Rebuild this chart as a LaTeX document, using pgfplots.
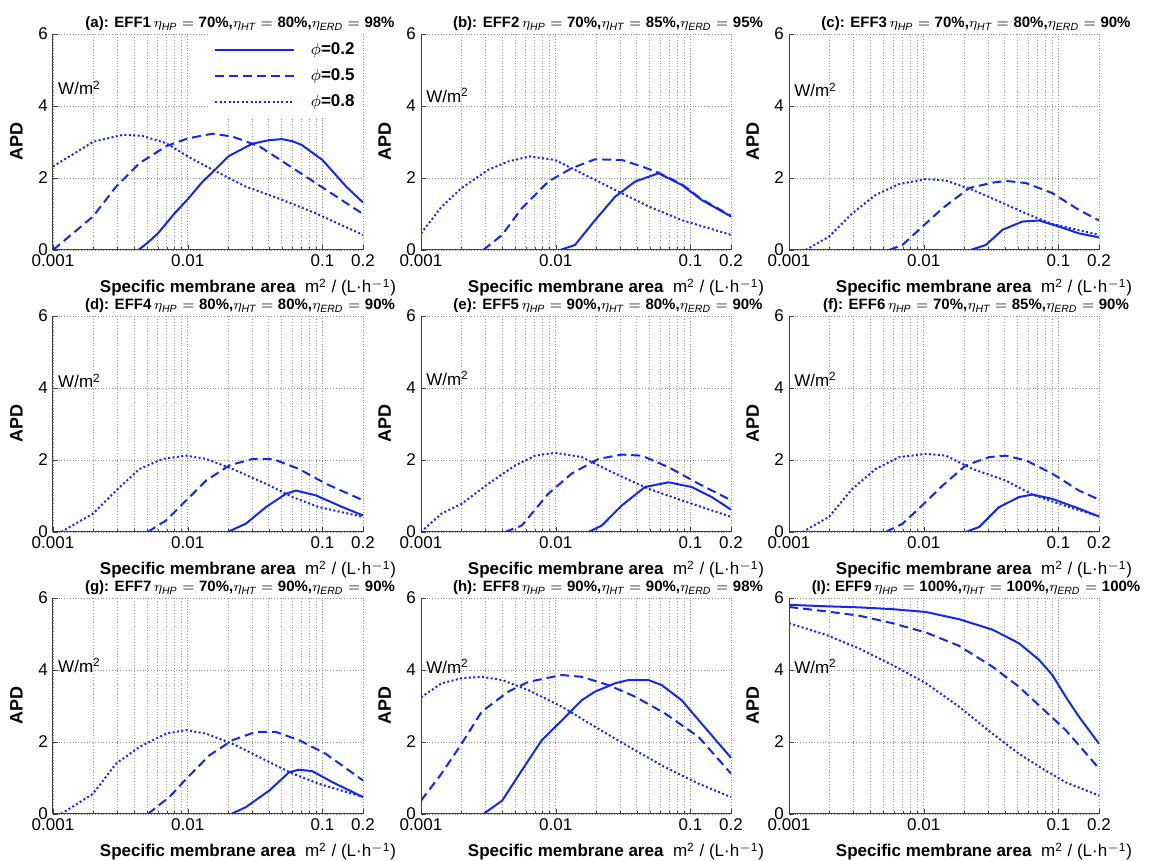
\documentclass[border=0pt]{standalone}
\usepackage{fontspec}
\setmainfont{Liberation Sans}
\usepackage{pgfplots}
\pgfplotsset{compat=1.18}
\usepgfplotslibrary{groupplots}
\definecolor{myblue}{RGB}{20,40,235}
\newcommand{\lab}{\fontsize{8.5}{10}\selectfont}
\newcommand{\eq}[2]{$\eta_{\mathit{#1}}=\mbox{\textbf{#2}}$}
\newcommand{\ttl}[5]{\textbf{(#1): EFF#2}\,\eq{HP}{#3\%,}\eq{HT}{#4\%,}\eq{ERD}{#5\%}}
\begin{document}
\begin{tikzpicture}
\begin{groupplot}[
    group style={group size=3 by 3, horizontal sep=29pt, vertical sep=33pt, group name=G},
    scale only axis, width=155pt, height=108pt,
    xmode=log, xmin=0.001, xmax=0.2, ymin=0, ymax=6,
    xtick={0.001,0.01,0.1,0.2}, xticklabels={0.001,0.01,0.1,0.2},
    minor xtick={0.002,0.003,0.004,0.005,0.006,0.007,0.008,0.009,0.02,0.03,0.04,0.05,0.06,0.07,0.08,0.09},
    ytick={0,2,4,6}, yticklabels={0,2,4,6},
    grid=both,
    grid style={densely dotted, black!45, line width=0.45pt},
    minor grid style={densely dotted, black!40, line width=0.45pt},
    axis x line*=bottom, axis y line*=left,
    axis line style={-, black!75, line width=0.5pt},
    tick align=inside, major tick length=2.5pt, minor tick length=1.5pt,
    tick style={black!75},
    ticklabel style={font=\lab},
    xticklabel style={yshift=1pt},
    yticklabel style={xshift=1pt},
    xlabel={\textbf{Specific membrane area}\ \ m\textsuperscript{2} / (L·h\textsuperscript{$-$1})},
    xlabel style={font=\lab, xshift=20pt, yshift=1pt},
    ylabel={\textbf{APD}},
    ylabel style={font=\fontsize{9}{10}\selectfont, yshift=1pt},
    title style={font=\fontsize{7.5}{9}\selectfont, yshift=-8pt, xshift=16pt},
  ]
% (a)
\nextgroupplot[title={\ttl{a}{1}{70}{80}{98}},
  legend style={at={(1,1)}, anchor=north east, draw=none, fill=white, font=\lab, row sep=1.5pt, inner sep=2pt},
  legend cell align=left, legend image post style={xscale=2.3}]
\addplot[myblue, line width=1pt] coordinates {(0.0043,0) (0.005,0.19) (0.006,0.46) (0.008,1.02) (0.01,1.41) (0.0129,1.9) (0.015,2.13) (0.02,2.6) (0.03,2.95) (0.04,3.05) (0.05,3.08) (0.06,3.02) (0.07,2.92) (0.1,2.5) (0.15,1.76) (0.2,1.32)};
\addplot[myblue, line width=1pt, dash pattern=on 4.5pt off 2.5pt] coordinates {(0.001,0) (0.00198,0.93) (0.00294,1.76) (0.00438,2.41) (0.0069,2.88) (0.01,3.1) (0.0153,3.23) (0.0215,3.15) (0.034,2.88) (0.0506,2.46) (0.089,1.86) (0.2,1.0)};
\addplot[myblue, line width=1pt, dash pattern=on 1pt off 1.2pt] coordinates {(0.001,2.32) (0.002,3.01) (0.0033,3.2) (0.0046,3.17) (0.0069,2.97) (0.01,2.6) (0.0153,2.23) (0.027,1.76) (0.0506,1.39) (0.089,1.02) (0.2,0.42)};
\legend{\hspace{6pt}$\phi$\textbf{=0.2},\hspace{6pt}$\phi$\textbf{=0.5},\hspace{6pt}$\phi$\textbf{=0.8}}
\node[anchor=west, font=\lab, inner sep=1pt] at (axis cs:0.00105,4.5) {W/m\textsuperscript{2}};
% (b)
\nextgroupplot[title={\ttl{b}{2}{70}{85}{95}}]
\addplot[myblue, line width=1pt] coordinates {(0.0108,0) (0.0139,0.14) (0.0196,0.83) (0.0276,1.48) (0.0388,1.9) (0.0578,2.13) (0.086,1.81) (0.121,1.39) (0.2,0.93)};
\addplot[myblue, line width=1pt, dash pattern=on 4.5pt off 2.5pt] coordinates {(0.0029,0) (0.004,0.42) (0.0056,1.16) (0.0088,1.9) (0.0131,2.27) (0.0196,2.52) (0.031,2.5) (0.0435,2.32) (0.0578,2.15) (0.086,1.83) (0.121,1.41) (0.2,0.95)};
\addplot[myblue, line width=1pt, dash pattern=on 1pt off 1.2pt] coordinates {(0.001,0.46) (0.00142,1.2) (0.002,1.72) (0.00316,2.23) (0.00445,2.46) (0.00645,2.6) (0.0099,2.5) (0.0156,2.13) (0.0276,1.67) (0.0488,1.21) (0.086,0.83) (0.2,0.42)};
\node[anchor=west, font=\lab, inner sep=1pt] at (axis cs:0.00105,4.3) {W/m\textsuperscript{2}};
% (c)
\nextgroupplot[title={\ttl{c}{3}{70}{80}{90}}]
\addplot[myblue, line width=1pt] coordinates {(0.0223,0) (0.0289,0.14) (0.0384,0.56) (0.054,0.79) (0.0718,0.82) (0.101,0.65) (0.142,0.46) (0.2,0.35)};
\addplot[myblue, line width=1pt, dash pattern=on 4.5pt off 2.5pt] coordinates {(0.00553,0) (0.00695,0.14) (0.0092,0.56) (0.0138,1.16) (0.0217,1.72) (0.0324,1.87) (0.0406,1.92) (0.0572,1.86) (0.09,1.58) (0.142,1.11) (0.2,0.82)};
\addplot[myblue, line width=1pt, dash pattern=on 1pt off 1.2pt] coordinates {(0.00133,0) (0.00198,0.37) (0.00295,1.02) (0.0044,1.53) (0.00656,1.83) (0.0104,1.97) (0.0146,1.93) (0.023,1.67) (0.0362,1.35) (0.057,1.02) (0.09,0.72) (0.2,0.42)};
\node[anchor=west, font=\lab, inner sep=1pt] at (axis cs:0.00105,4.45) {W/m\textsuperscript{2}};
% (d)
\nextgroupplot[title={\ttl{d}{4}{80}{80}{90}}]
\addplot[myblue, line width=1pt] coordinates {(0.0198,0) (0.027,0.23) (0.038,0.69) (0.0535,1.06) (0.0634,1.15) (0.089,1.02) (0.141,0.69) (0.2,0.46)};
\addplot[myblue, line width=1pt, dash pattern=on 4.5pt off 2.5pt] coordinates {(0.00505,0) (0.0069,0.32) (0.01,0.92) (0.0137,1.43) (0.0204,1.85) (0.0303,2.03) (0.0426,2.03) (0.067,1.75) (0.106,1.34) (0.2,0.88)};
\addplot[myblue, line width=1pt, dash pattern=on 1pt off 1.2pt] coordinates {(0.00115,0) (0.00198,0.51) (0.00294,1.15) (0.00438,1.75) (0.00653,2.03) (0.0097,2.12) (0.0137,2.03) (0.0215,1.75) (0.038,1.34) (0.06,0.97) (0.094,0.69) (0.2,0.42)};
\node[anchor=west, font=\lab, inner sep=1pt] at (axis cs:0.00105,4.2) {W/m\textsuperscript{2}};
% (e)
\nextgroupplot[title={\ttl{e}{5}{90}{80}{90}}]
\addplot[myblue, line width=1pt] coordinates {(0.0175,0) (0.022,0.18) (0.031,0.74) (0.046,1.25) (0.0687,1.38) (0.102,1.25) (0.144,0.97) (0.2,0.62)};
\addplot[myblue, line width=1pt, dash pattern=on 4.5pt off 2.5pt] coordinates {(0.0042,0) (0.0056,0.18) (0.0088,1.06) (0.0131,1.62) (0.0207,2.03) (0.031,2.15) (0.0435,2.12) (0.0687,1.8) (0.115,1.34) (0.2,0.88)};
\addplot[myblue, line width=1pt, dash pattern=on 1pt off 1.2pt] coordinates {(0.001,0) (0.00142,0.51) (0.002,0.78) (0.00316,1.34) (0.005,1.85) (0.00703,2.12) (0.0099,2.2) (0.0156,2.08) (0.0276,1.62) (0.0488,1.2) (0.086,0.88) (0.2,0.42)};
\node[anchor=west, font=\lab, inner sep=1pt] at (axis cs:0.00105,4.27) {W/m\textsuperscript{2}};
% (f)
\nextgroupplot[title={\ttl{f}{6}{70}{85}{90}}]
\addplot[myblue, line width=1pt] coordinates {(0.0205,0) (0.0258,0.14) (0.0362,0.69) (0.051,0.97) (0.064,1.04) (0.09,0.92) (0.142,0.65) (0.2,0.43)};
\addplot[myblue, line width=1pt, dash pattern=on 4.5pt off 2.5pt] coordinates {(0.00522,0) (0.00695,0.23) (0.0092,0.65) (0.0138,1.29) (0.0205,1.85) (0.0306,2.08) (0.0406,2.12) (0.0572,1.99) (0.09,1.62) (0.142,1.15) (0.2,0.9)};
\addplot[myblue, line width=1pt, dash pattern=on 1pt off 1.2pt] coordinates {(0.00126,0) (0.00198,0.42) (0.00295,1.2) (0.0044,1.75) (0.00656,2.08) (0.0104,2.17) (0.0146,2.12) (0.023,1.75) (0.0406,1.43) (0.064,1.04) (0.101,0.78) (0.2,0.43)};
\node[anchor=west, font=\lab, inner sep=1pt] at (axis cs:0.00105,4.23) {W/m\textsuperscript{2}};
% (g)
\nextgroupplot[title={\ttl{g}{7}{70}{90}{90}}]
\addplot[myblue, line width=1pt] coordinates {(0.021,0) (0.027,0.19) (0.0403,0.65) (0.0566,1.16) (0.067,1.23) (0.084,1.19) (0.119,0.88) (0.2,0.47)};
\addplot[myblue, line width=1pt, dash pattern=on 4.5pt off 2.5pt] coordinates {(0.00505,0) (0.0073,0.47) (0.01,1.02) (0.0145,1.63) (0.0215,2.05) (0.032,2.28) (0.045,2.28) (0.067,2.05) (0.106,1.67) (0.2,0.93)};
\addplot[myblue, line width=1pt, dash pattern=on 1pt off 1.2pt] coordinates {(0.00115,0) (0.00198,0.56) (0.00294,1.4) (0.00438,1.86) (0.0069,2.23) (0.0097,2.33) (0.0137,2.23) (0.0215,1.95) (0.038,1.49) (0.06,1.12) (0.094,0.84) (0.2,0.47)};
\node[anchor=west, font=\lab, inner sep=1pt] at (axis cs:0.00105,4.13) {W/m\textsuperscript{2}};
% (h)
\nextgroupplot[title={\ttl{h}{8}{90}{90}{98}}]
\addplot[myblue, line width=1pt] coordinates {(0.0029,0) (0.004,0.37) (0.0056,1.21) (0.00787,2.05) (0.0111,2.6) (0.0156,3.16) (0.0196,3.4) (0.0276,3.63) (0.0346,3.72) (0.0488,3.72) (0.0612,3.58) (0.086,3.16) (0.121,2.51) (0.2,1.56)};
\addplot[myblue, line width=1pt, dash pattern=on 4.5pt off 2.5pt] coordinates {(0.001,0.37) (0.00142,1.12) (0.002,1.95) (0.00282,2.84) (0.00445,3.4) (0.00627,3.67) (0.0111,3.86) (0.0156,3.81) (0.0246,3.58) (0.0388,3.26) (0.0648,2.79) (0.115,2.14) (0.2,1.12)};
\addplot[myblue, line width=1pt, dash pattern=on 1pt off 1.2pt] coordinates {(0.001,3.24) (0.00142,3.63) (0.002,3.77) (0.00282,3.81) (0.004,3.72) (0.00627,3.44) (0.0111,2.98) (0.0196,2.42) (0.0388,1.77) (0.0648,1.3) (0.115,0.84) (0.2,0.47)};
\node[anchor=west, font=\lab, inner sep=1pt] at (axis cs:0.00105,4.1) {W/m\textsuperscript{2}};
% (i)
\nextgroupplot[title={\textbf{(I): EFF9}\,\eq{HP}{100\%,}\eq{HT}{100\%,}\eq{ERD}{100\%}}]
\addplot[myblue, line width=1pt] coordinates {(0.001,5.81) (0.00187,5.77) (0.0033,5.74) (0.00585,5.69) (0.0104,5.61) (0.0183,5.41) (0.0324,5.12) (0.051,4.74) (0.0718,4.28) (0.09,3.86) (0.113,3.26) (0.142,2.7) (0.2,1.95)};
\addplot[myblue, line width=1pt, dash pattern=on 4.5pt off 2.5pt] coordinates {(0.001,5.75) (0.00187,5.63) (0.0033,5.51) (0.00585,5.3) (0.0104,5.04) (0.0183,4.67) (0.0324,4.09) (0.051,3.53) (0.076,2.93) (0.113,2.33) (0.142,1.91) (0.2,1.26)};
\addplot[myblue, line width=1pt, dash pattern=on 1pt off 1.2pt] coordinates {(0.001,5.3) (0.00187,4.98) (0.0033,4.6) (0.00585,4.14) (0.0104,3.63) (0.0183,2.98) (0.0324,2.23) (0.051,1.67) (0.076,1.26) (0.113,0.88) (0.2,0.51)};
\node[anchor=west, font=\lab, inner sep=1pt] at (axis cs:0.00105,4.1) {W/m\textsuperscript{2}};
\end{groupplot}
\pgfresetboundingbox
\useasboundingbox ([shift={(-26.5pt,-413.5pt)}]G c1r1.north west) rectangle ++(576.5pt,430.5pt);
\end{tikzpicture}
\end{document}
